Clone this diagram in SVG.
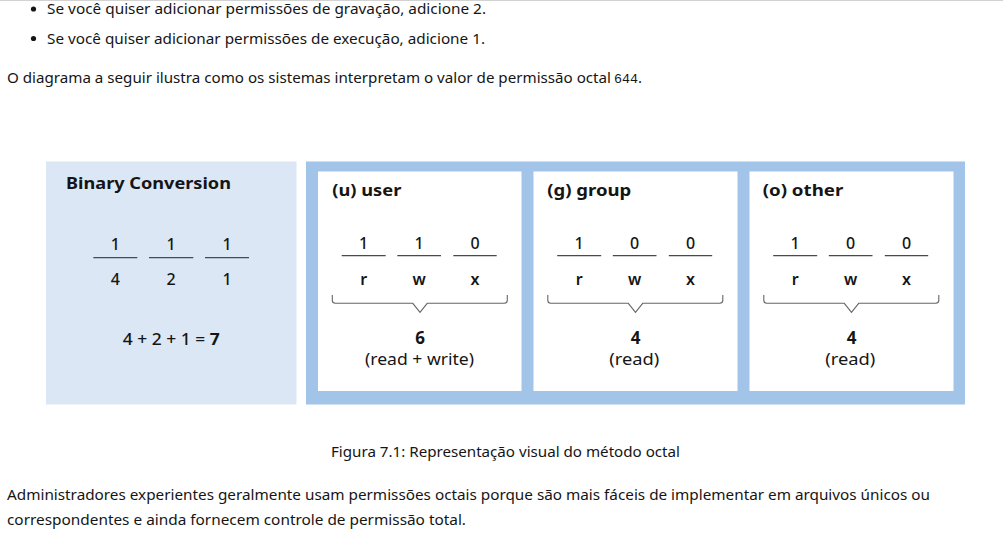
<svg xmlns="http://www.w3.org/2000/svg" width="1008" height="542" viewBox="0 0 1008 542">
<style>
.body{font-family:"Noto Sans","Open Sans","Liberation Sans",sans-serif;font-size:15px;fill:#151515}
.mono{font-family:"Liberation Mono","DejaVu Sans Mono",monospace;font-size:12.5px;fill:#151515}
.ttl{font-family:"Noto Sans","Open Sans","Liberation Sans",sans-serif;font-size:16px;font-weight:700;fill:#151515}
.dig{font-family:"Noto Sans","Open Sans","Liberation Sans",sans-serif;font-size:16px;font-weight:500;fill:#151515;text-anchor:middle}
.let{font-family:"Noto Sans","Open Sans","Liberation Sans",sans-serif;font-size:16px;font-weight:600;fill:#151515;text-anchor:middle}
.big{font-family:"Noto Sans","Open Sans","Liberation Sans",sans-serif;font-size:17px;font-weight:700;fill:#151515;text-anchor:middle}
.sub{font-family:"Noto Sans","Open Sans","Liberation Sans",sans-serif;font-size:16.5px;fill:#151515;text-anchor:middle}
.fl{stroke:#4a4a4a;stroke-width:1.3;fill:none}
.br{stroke:#666;stroke-width:1.1;fill:none}
.white{fill:#ffffff}
</style>
<defs>
<g id="rwx">
<line class="fl" x1="23.7" y1="255.7" x2="67.7" y2="255.7"/>
<line class="fl" x1="79.3" y1="255.7" x2="123" y2="255.7"/>
<line class="fl" x1="135.3" y1="255.7" x2="178.7" y2="255.7"/>
<text class="let" x="45.7" y="284.5">r</text>
<text class="let" x="101.2" y="284.5">w</text>
<text class="let" x="157" y="284.5">x</text>
<path class="br" d="M14.3,295 v5.3 q0,3 3,3 H94.8 L102,312.3 L109.2,303.3 H186.3 q3,0 3,-3 V295"/>
</g>
</defs>
<rect width="1008" height="542" fill="#ffffff"/>
<line x1="0" y1="0.5" x2="1003" y2="0.5" stroke="#d2d2d2" stroke-width="1"/>

<g id="intro">
<circle cx="33.5" cy="9" r="2.6" fill="#151515"/>
<text class="body" x="47" y="14" textLength="439" lengthAdjust="spacingAndGlyphs">Se você quiser adicionar permissões de gravação, adicione 2.</text>
<circle cx="33.5" cy="38.5" r="2.6" fill="#151515"/>
<text class="body" x="47" y="44" textLength="438" lengthAdjust="spacingAndGlyphs">Se você quiser adicionar permissões de execução, adicione 1.</text>
<text class="body" x="7" y="83" textLength="604" lengthAdjust="spacingAndGlyphs">O diagrama a seguir ilustra como os sistemas interpretam o valor de permissão octal</text>
<text class="mono" x="614" y="83" textLength="24" lengthAdjust="spacingAndGlyphs">644</text>
<text class="body" x="638" y="83">.</text>
</g>

<g id="binary-conversion">
<rect x="46" y="161.5" width="250.5" height="243" fill="#dbe7f4"/>
<text class="ttl" x="66" y="189" textLength="165" lengthAdjust="spacingAndGlyphs">Binary Conversion</text>
<line class="fl" x1="93.3" y1="257.7" x2="137.3" y2="257.7"/>
<line class="fl" x1="149" y1="257.7" x2="193.3" y2="257.7"/>
<line class="fl" x1="205" y1="257.7" x2="249" y2="257.7"/>
<text class="dig" x="115.3" y="250">1</text>
<text class="dig" x="171.2" y="250">1</text>
<text class="dig" x="227" y="250">1</text>
<text class="dig" x="115.3" y="285" font-size="17">4</text>
<text class="dig" x="171.2" y="285" font-size="17">2</text>
<text class="dig" x="227" y="285" font-size="17">1</text>
<text class="dig" x="171.2" y="345" font-size="17" textLength="97" lengthAdjust="spacingAndGlyphs">4 + 2 + 1 = <tspan font-weight="700">7</tspan></text>
</g>

<g id="frame">
<rect x="306" y="161.5" width="659" height="243" fill="#a2c4e8"/>
</g>

<g id="user">
<rect class="white" x="318" y="171.5" width="203.5" height="219.5"/>
<text class="ttl" x="332.3" y="195.5" textLength="69" lengthAdjust="spacingAndGlyphs">(u) user</text>
<text class="dig" x="363.7" y="249">1</text>
<text class="dig" x="419.2" y="249">1</text>
<text class="dig" x="475" y="249">0</text>
<use href="#rwx" x="318"/>
<text class="big" x="420" y="343.5">6</text>
<text class="sub" x="419.5" y="364.5" textLength="109" lengthAdjust="spacingAndGlyphs">(read + write)</text>
</g>

<g id="group">
<rect class="white" x="533.5" y="171.5" width="204" height="219.5"/>
<text class="ttl" x="547.3" y="195.5" textLength="84" lengthAdjust="spacingAndGlyphs">(g) group</text>
<text class="dig" x="579.2" y="249">1</text>
<text class="dig" x="634.7" y="249">0</text>
<text class="dig" x="690.5" y="249">0</text>
<use href="#rwx" x="533.5"/>
<text class="big" x="635.5" y="343.5">4</text>
<text class="sub" x="634.3" y="364.5" textLength="50" lengthAdjust="spacingAndGlyphs">(read)</text>
</g>

<g id="other">
<rect class="white" x="749.5" y="171.5" width="204" height="219.5"/>
<text class="ttl" x="762.7" y="195.5" textLength="80.6" lengthAdjust="spacingAndGlyphs">(o) other</text>
<text class="dig" x="795.2" y="249">1</text>
<text class="dig" x="850.7" y="249">0</text>
<text class="dig" x="906.5" y="249">0</text>
<use href="#rwx" x="749.5"/>
<text class="big" x="851.5" y="343.5">4</text>
<text class="sub" x="850.3" y="364.5" textLength="50" lengthAdjust="spacingAndGlyphs">(read)</text>
</g>

<g id="connectors"></g>

<g id="caption">
<text class="body" x="331" y="457" textLength="349" lengthAdjust="spacingAndGlyphs">Figura 7.1: Representação visual do método octal</text>
</g>

<g id="paragraph">
<text class="body" x="7" y="500" textLength="923" lengthAdjust="spacingAndGlyphs">Administradores experientes geralmente usam permissões octais porque são mais fáceis de implementar em arquivos únicos ou</text>
<text class="body" x="7" y="525" textLength="459" lengthAdjust="spacingAndGlyphs">correspondentes e ainda fornecem controle de permissão total.</text>
</g>
</svg>
